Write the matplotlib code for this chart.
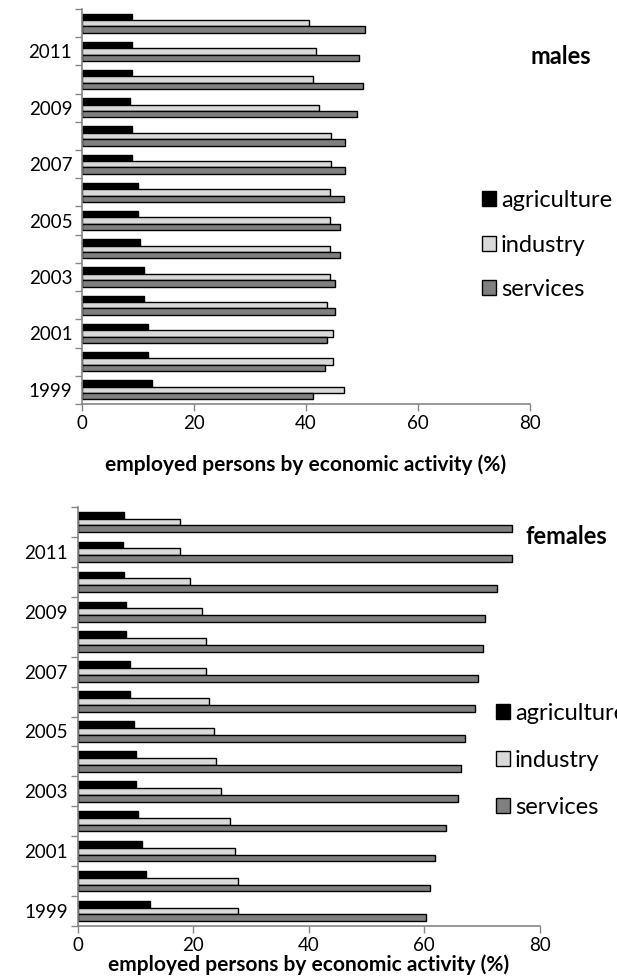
import matplotlib
matplotlib.use("Agg")
import matplotlib.pyplot as plt
import numpy as np
from matplotlib.patches import Patch

plt.rcParams["font.family"] = ["Lato", "DejaVu Sans"]

years = list(range(1999, 2013))
sectors = ["agriculture", "industry", "services"]
colors = ["#000000", "#d9d9d9", "#808080"]

# males, 1999 -> 2012 (% of employed persons)
male_agriculture = [12.5, 11.8, 11.8, 11.1, 11.1, 10.4, 10.0, 10.0, 8.9, 8.9, 8.6, 8.9, 8.9, 8.9]
male_industry = [46.7, 44.9, 44.9, 43.8, 44.2, 44.2, 44.2, 44.2, 44.5, 44.5, 42.4, 41.3, 41.7, 40.6]
male_services = [41.3, 43.4, 43.8, 45.2, 45.2, 46.0, 46.0, 46.7, 47.0, 47.0, 49.1, 50.2, 49.5, 50.5]

# females, 1999 -> 2012
female_agriculture = [12.6, 11.9, 11.2, 10.5, 10.2, 10.2, 9.8, 9.1, 9.1, 8.4, 8.4, 8.1, 7.8, 8.1]
female_industry = [27.7, 27.7, 27.3, 26.4, 24.9, 23.9, 23.6, 22.8, 22.2, 22.2, 21.6, 19.5, 17.7, 17.7]
female_services = [60.2, 60.9, 61.9, 63.7, 65.8, 66.4, 67.1, 68.8, 69.2, 70.2, 70.5, 72.5, 75.1, 75.1]

W, H = 617, 976
fig = plt.figure(figsize=(W / 100, H / 100), dpi=100)


def px_axes(left, top, right, bottom):
    return fig.add_axes([left / W, 1 - bottom / H, (right - left) / W, (bottom - top) / H])


def panel(ax, series, title, title_xy, label_y, legend_xy, legend_gap):
    y = np.arange(len(years))
    h = 0.227
    for i, (vals, c) in enumerate(zip(series, colors)):
        ax.barh(y + (1 - i) * h, vals, height=h, color=c, edgecolor="black", linewidth=1.0)
    ax.set_xlim(0, 80)
    ax.set_ylim(-0.5, len(years) - 0.5)
    ax.set_xticks([0, 20, 40, 60, 80])
    ax.set_yticks(y[::2])
    ax.set_yticklabels([str(v) for v in years[::2]])
    ax.set_yticks(np.arange(-0.5, len(years)), minor=True)
    ax.tick_params(axis="y", which="major", length=0, pad=7, labelsize=13.5)
    ax.tick_params(axis="y", which="minor", length=5, color="#868686", width=1)
    ax.tick_params(axis="x", length=5, color="#868686", width=1, labelsize=13.5, pad=3)
    for s in ["top", "right"]:
        ax.spines[s].set_visible(False)
    for s in ["left", "bottom"]:
        ax.spines[s].set_color("#868686")
        ax.spines[s].set_linewidth(1.2)
    ax.set_xlabel("employed persons by economic activity (%)", fontsize=15,
                  fontweight="bold")
    ax.xaxis.set_label_coords(0.5, label_y)
    fig.text(title_xy[0] / W, 1 - title_xy[1] / H, title, fontsize=17,
             fontweight="bold", ha="left", va="center")
    handles = [Patch(facecolor=c, edgecolor="black", linewidth=1.0, label=s)
               for s, c in zip(sectors, colors)]
    fig.legend(handles=handles, loc="upper left",
               bbox_to_anchor=(legend_xy[0] / W, 1 - legend_xy[1] / H),
               frameon=False, fontsize=17, handlelength=0.6, handleheight=0.6,
               handletextpad=0.2, labelspacing=legend_gap, borderaxespad=0,
               borderpad=0)


ax1 = px_axes(82, 9, 530, 404)
panel(ax1, [male_agriculture, male_industry, male_services], "males",
      (530, 57), -0.128, (482, 190), 1.0)

ax2 = px_axes(77.5, 507, 540, 926)
panel(ax2, [female_agriculture, female_industry, female_services], "females",
      (526, 536), -0.068, (496, 703), 1.1)

fig.savefig("out.png", dpi=100)
